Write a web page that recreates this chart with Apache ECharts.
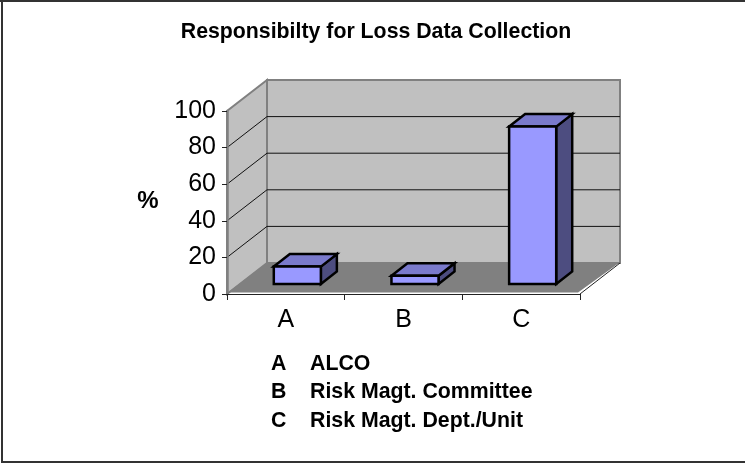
<!DOCTYPE html>
<html>
<head>
<meta charset="utf-8">
<style>html,body{margin:0;padding:0;background:#fff}#c{width:745px;height:464px}</style>
<script src="https://cdn.jsdelivr.net/npm/echarts@6/dist/echarts.min.js"></script>
</head>
<body>
<div id="c"></div>
<script>
var categories = ['A', 'B', 'C'];
var values = [9.5, 4.5, 86];
var yTicks = [0, 20, 40, 60, 80, 100];
var legendKeys = ['A', 'B', 'C'];
var legendNames = ['ALCO', 'Risk Magt. Committee', 'Risk Magt. Dept./Unit'];
var titleText = 'Responsibilty for Loss Data Collection';
var yAxisName = '%';

var FONT = '"Liberation Sans", Arial, sans-serif';
var DEPTH = [40, -31];
var BAR_SHIFT = [11.5, -10];
var BAR_DEPTH = [16, -12.5];

function renderRoom(params, api) {
  var r = params.coordSys;
  var x0 = r.x, x1 = r.x + r.width;
  var dx = DEPTH[0], dy = DEPTH[1];
  var yB = api.coord([0, 0])[1], yT = api.coord([0, 100])[1];
  return { type: 'group', children: [
    { type: 'polygon', shape: { points: [[x0, yB], [x0 + dx, yB + dy], [x0 + dx, yT + dy], [x0, yT]] },
      style: { fill: '#C0C0C0', stroke: '#808080', lineWidth: 2 } },
    { type: 'polygon', shape: { points: [[x0 + dx, yB + dy], [x1 + dx, yB + dy], [x1 + dx, yT + dy], [x0 + dx, yT + dy]] },
      style: { fill: '#C0C0C0', stroke: '#808080', lineWidth: 2 } },
    { type: 'polygon', shape: { points: [[x0 + 1, yB - 1.5], [x1 - 2, yB - 1.5], [x1 + dx - 1, yB + dy], [x0 + dx, yB + dy]] },
      style: { fill: '#808080' } },
    { type: 'line', shape: { x1: x1, y1: yB, x2: x1 + dx, y2: yB + dy },
      style: { stroke: '#222', lineWidth: 1 } }
  ] };
}

function renderGrid(params, api) {
  var r = params.coordSys;
  var x0 = r.x, x1 = r.x + r.width;
  var y = api.coord([0, api.value(0)])[1];
  return {
    type: 'polyline',
    shape: { points: [[x0, y], [x0 + DEPTH[0], y + DEPTH[1]], [x1 + DEPTH[0], y + DEPTH[1]]] },
    style: { fill: null, stroke: '#111', lineWidth: 1 }
  };
}

function renderBar(params, api) {
  var c = api.coord([api.value(0), api.value(1)]);
  var z = api.coord([api.value(0), 0]);
  var band = api.size([1, 0])[0];
  var w = band * 0.4;
  var l = c[0] - w / 2 + BAR_SHIFT[0], rr = l + w;
  var t = c[1] + BAR_SHIFT[1], b = z[1] + BAR_SHIFT[1];
  var dx = BAR_DEPTH[0], dy = BAR_DEPTH[1];
  var stroke = { stroke: '#000', lineWidth: 2.5, lineJoin: 'miter' };
  return { type: 'group', children: [
    { type: 'polygon', shape: { points: [[rr, b], [rr + dx, b + dy], [rr + dx, t + dy], [rr, t]] },
      style: Object.assign({ fill: '#4D4D80' }, stroke) },
    { type: 'polygon', shape: { points: [[l, t], [rr, t], [rr + dx, t + dy], [l + dx, t + dy]] },
      style: Object.assign({ fill: '#7A7ACC' }, stroke) },
    { type: 'rect', shape: { x: l, y: t, width: w, height: b - t },
      style: Object.assign({ fill: '#9999FF' }, stroke) }
  ] };
}

var frameColor = '#333';
var graphics = [
  { type: 'rect', shape: { x: 0, y: 0, width: 745, height: 2 }, style: { fill: frameColor } },
  { type: 'rect', shape: { x: 1, y: 0, width: 2, height: 463 }, style: { fill: frameColor } },
  { type: 'rect', shape: { x: 1, y: 461, width: 744, height: 2 }, style: { fill: frameColor } },
  { type: 'text', x: 148, y: 201, style: { text: yAxisName, font: 'bold 24px ' + FONT, fill: '#000', textAlign: 'center', textVerticalAlign: 'middle' } }
];
var legendRowY = [364, 392, 421];
legendNames.forEach(function (n, i) {
  graphics.push({ type: 'text', x: 271, y: legendRowY[i], style: { text: legendKeys[i], font: 'bold 21.3px ' + FONT, fill: '#000', textVerticalAlign: 'middle' } });
  graphics.push({ type: 'text', x: 310, y: legendRowY[i], style: { text: n, font: 'bold 21.3px ' + FONT, fill: '#000', textVerticalAlign: 'middle' } });
});

var chart = echarts.init(document.getElementById('c'), null, { renderer: 'canvas' });
chart.setOption({
  animation: false,
  backgroundColor: '#fff',
  title: { text: titleText, left: 371, top: 17, textAlign: 'center',
    textStyle: { fontFamily: FONT, fontWeight: 'bold', fontSize: 21.3, color: '#000' } },
  grid: { left: 227, right: 165, top: 111, bottom: 170 },
  xAxis: {
    type: 'category', data: categories, boundaryGap: true,
    axisLine: { show: true, lineStyle: { color: '#222', width: 1 } },
    axisTick: { show: true, alignWithLabel: false, length: 6, lineStyle: { color: '#222' } },
    axisLabel: { fontFamily: FONT, fontSize: 25, color: '#000', margin: 14 },
    z: 5
  },
  yAxis: {
    type: 'value', min: 0, max: 100, interval: 20,
    axisLine: { show: true, lineStyle: { color: '#808080', width: 2.5 } },
    axisTick: { show: true, length: 5, lineStyle: { color: '#222' } },
    axisLabel: { fontFamily: FONT, fontSize: 25, color: '#000', margin: 11 },
    splitLine: { show: false },
    z: 5
  },
  graphic: { elements: graphics },
  series: [
    { type: 'custom', coordinateSystem: 'cartesian2d', renderItem: renderRoom, data: [[0, 0]], clip: false, silent: true, z: 1, encode: { x: 0, y: 1 } },
    { type: 'custom', coordinateSystem: 'cartesian2d', renderItem: renderGrid, data: yTicks.slice(1, -1).map(function (v) { return [v]; }), clip: false, silent: true, z: 2, encode: { y: 0 } },
    { type: 'custom', coordinateSystem: 'cartesian2d', renderItem: renderBar, data: categories.map(function (c, i) { return [i, values[i]]; }), clip: false, silent: true, z: 3, encode: { x: 0, y: 1 } }
  ]
});
</script>
</body>
</html>
